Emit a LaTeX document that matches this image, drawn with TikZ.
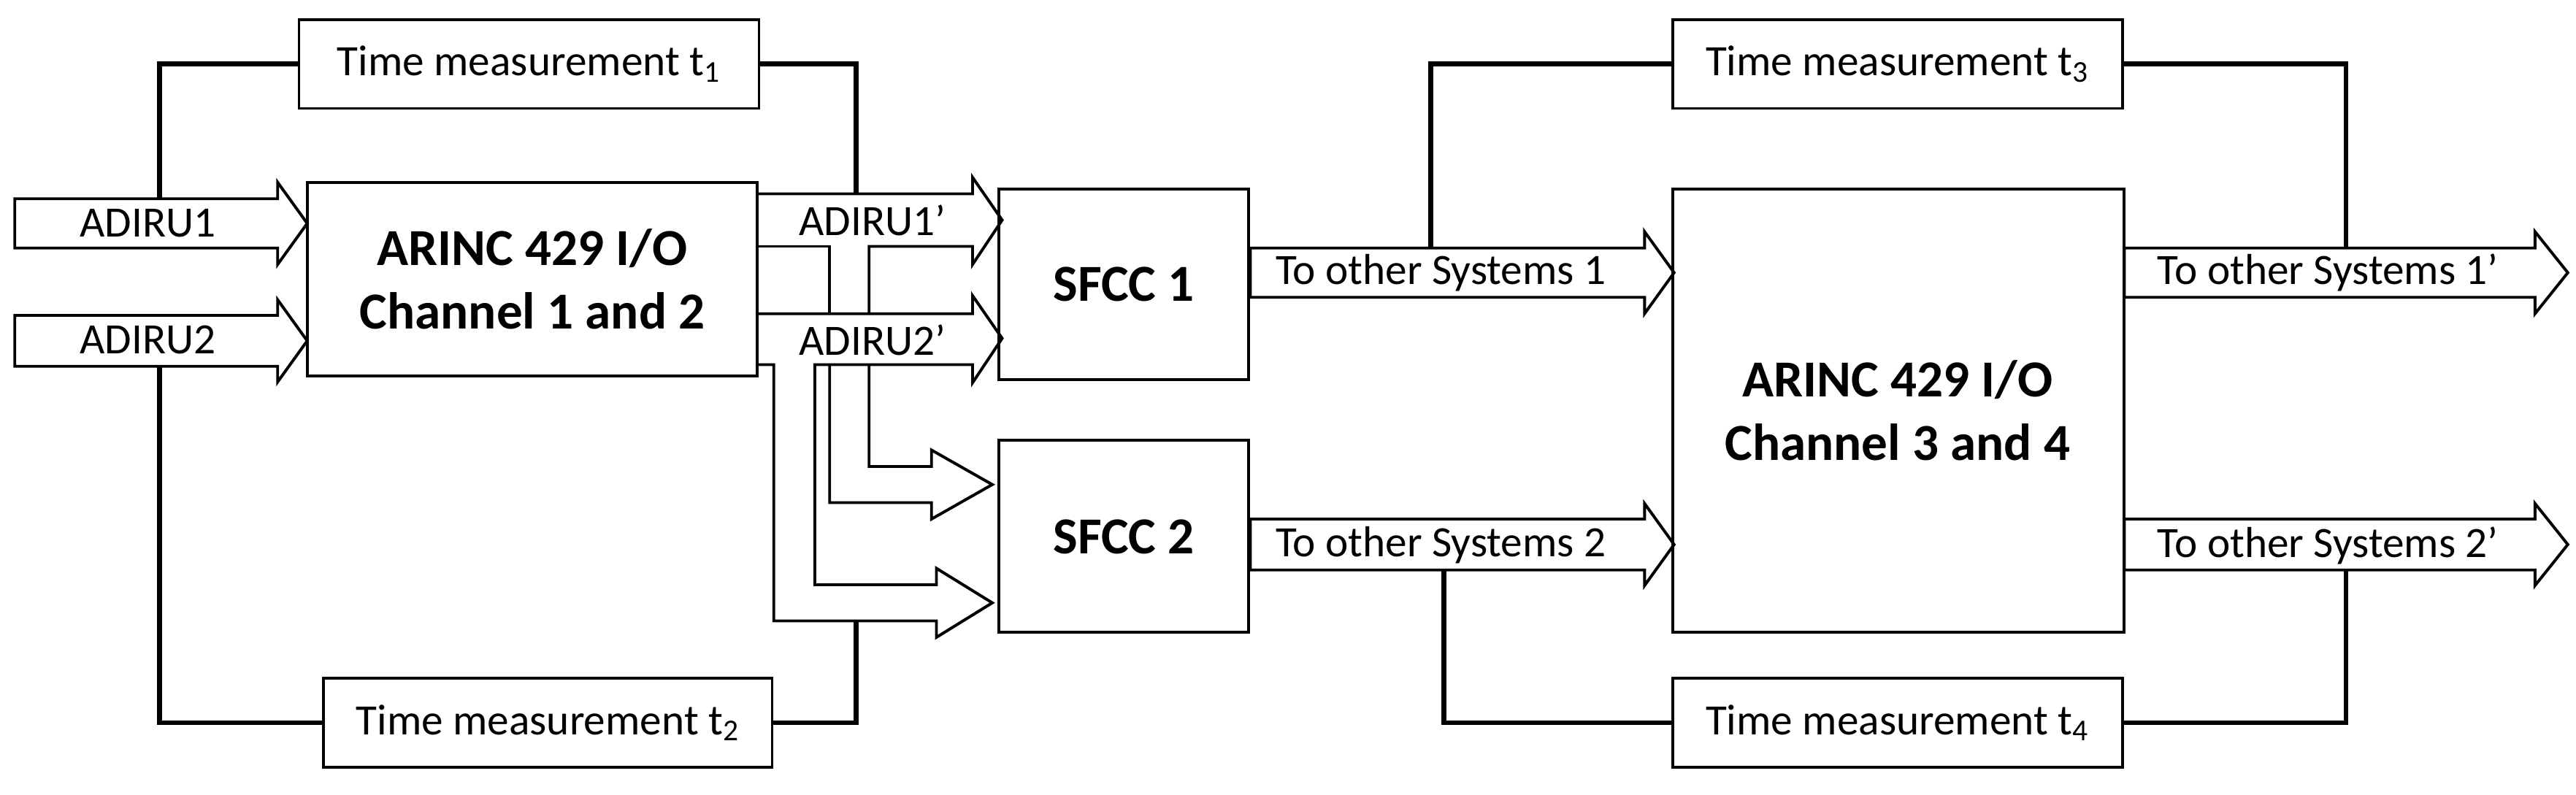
\documentclass[tikz,border=0pt]{standalone}
\usepackage{fontspec}
\setmainfont{Carlito}
\begin{document}
\begin{tikzpicture}[x=0.02cm,y=-0.02cm,
  thin/.style={line width=1pt,line join=miter},
  thick/.style={line width=1.7pt},
  lbl/.style={font=\fontsize{15}{17}\selectfont},
  big/.style={font=\fontsize{18}{22}\selectfont\bfseries,align=center}]
\useasboundingbox (0,0) rectangle (1568,483.6);
\newcommand{\barrow}[6]{% x0, top, bottom, base, tip, headhalf
  \draw[thin] (#1,#2)--(#4,#2)--(#4,{(#2+#3)/2-#6})--(#5,{(#2+#3)/2})--(#4,{(#2+#3)/2+#6})--(#4,#3)--(#1,#3)--cycle;}
% boxes
\draw[thin] (182,12) rectangle (462,66);
\node[lbl] (t1t) at (322,39) {Time measurement t\textsubscript{1}};
\draw[thin] (197,413) rectangle (470,467);
\node[lbl] (t2t) at (333.5,440) {Time measurement t\textsubscript{2}};
\draw[thin] (1018,12) rectangle (1292,66);
\node[lbl] (t3t) at (1155,39) {Time measurement t\textsubscript{3}};
\draw[thin] (1018,413) rectangle (1292,467);
\node[lbl] (t4t) at (1155,440) {Time measurement t\textsubscript{4}};
\draw[thin] (187,111) rectangle (461,229);
\node[big] (a12) at (324,170) {ARINC 429 I/O\\Channel 1 and 2};
\draw[thin] (608,115) rectangle (760,231);
\node[big] (s1) at (684,173) {SFCC 1};
\draw[thin] (608,268) rectangle (760,385);
\node[big] (s2) at (684,327) {SFCC 2};
\draw[thin] (1018,115) rectangle (1293,385);
\node[big] (a34) at (1155,250) {ARINC 429 I/O\\Channel 3 and 4};
% input arrows
\barrow{9}{121}{151}{169}{187}{25}
\node[lbl] (in1) at (90,136) {ADIRU1};
\barrow{9}{192}{223}{169}{187}{25}
\node[lbl] (in2) at (90,207) {ADIRU2};
% ADIRU1' / ADIRU2' network
\draw[thin] (461,118)--(592,118)--(592,108)--(610,134)--(592,161)--(592,150)--(529,150)--(529,191);
\draw[thin] (461,150)--(505,150)--(505,191);
\draw[thin] (461,191)--(592,191)--(592,180)--(610,206)--(592,233)--(592,222)--(496,222)--(496,356)--(570,356)--(570,346)--(604,367)--(570,388)--(570,378)--(471,378)--(471,222)--(461,222);
\draw[thin] (529,222)--(529,284)--(567,284)--(567,274)--(604,295)--(567,316)--(567,306)--(505,306)--(505,222);
\node[lbl] (o1) at (531,134) {ADIRU1’};
\node[lbl] (o2) at (531,207) {ADIRU2’};
% right arrows
\barrow{761}{151}{181}{1001}{1019}{25}
\node[lbl] (r1) at (877,166) {To other Systems 1};
\barrow{761}{316}{347}{1001}{1019}{25}
\node[lbl] (r2) at (877,332) {To other Systems 2};
\barrow{1293}{151}{181}{1543}{1563}{25}
\node[lbl] (r3) at (1417,166) {To other Systems 1’};
\barrow{1293}{316}{347}{1543}{1563}{25}
\node[lbl] (r4) at (1417,332) {To other Systems 2’};
% measurement taps
\draw[thick] (182,39)--(97,39)--(97,121);
\draw[thick] (197,440)--(97,440)--(97,223);
\draw[thick] (462,39)--(521,39)--(521,118);
\draw[thick] (470,440)--(521,440)--(521,378);
\draw[thick] (1018,39)--(871,39)--(871,151);
\draw[thick] (1292,39)--(1428,39)--(1428,151);
\draw[thick] (1018,440)--(879,440)--(879,347);
\draw[thick] (1292,440)--(1428,440)--(1428,347);
\end{tikzpicture}
\end{document}
